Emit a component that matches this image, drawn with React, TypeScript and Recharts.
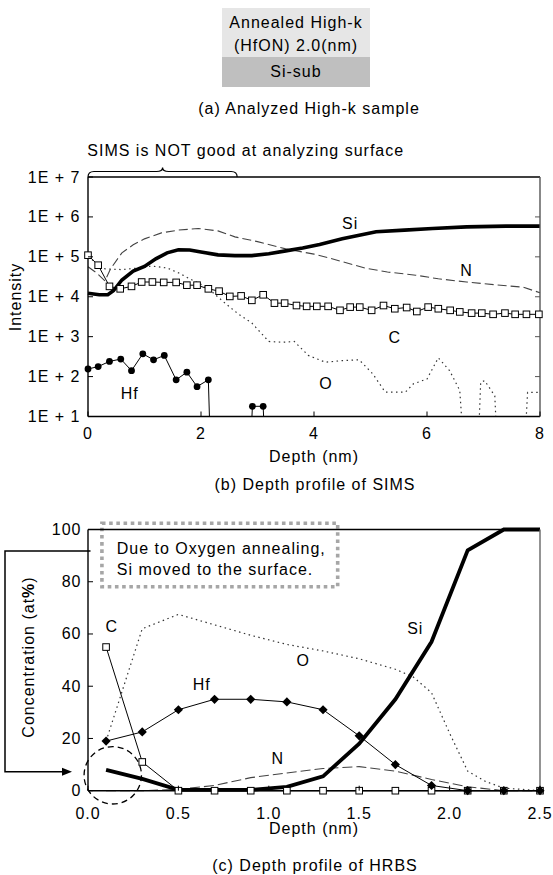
import React from 'react';
import { LineChart, Line, XAxis, YAxis, ReferenceDot, ReferenceLine, ReferenceArea } from 'recharts';

const FONT = '"Liberation Sans", Arial, Helvetica, sans-serif';

// ---------- (b) SIMS depth profile ----------
const SIMS_X_TICKS = [0, 2, 4, 6, 8];
const SIMS_X_TOP_TICKS = [2, 4, 6];
const SIMS_Y_TICKS = [10, 100, 1000, 10000, 100000, 1000000, 10000000];
const SIMS_Y_TICK_LABELS = ['1E + 1', '1E + 2', '1E + 3', '1E + 4', '1E + 5', '1E + 6', '1E + 7'];
const SIMS_Y_RIGHT_TICKS = [100, 1000, 10000, 100000, 1000000];

const SIMS_SI_DEPTH = [0, 0.2, 0.35, 0.45, 0.6, 0.8, 1.0, 1.2, 1.4, 1.6, 1.8, 2.0, 2.3, 2.6, 2.9, 3.2, 3.5, 3.8, 4.1, 4.5, 5.1, 5.6, 6.1, 6.7, 7.4, 8.0];
const SIMS_SI = [12300, 11200, 11200, 14100, 26300, 43700, 57500, 89100, 126000, 151000, 148000, 132000, 112000, 107000, 107000, 120000, 141000, 166000, 204000, 282000, 427000, 468000, 513000, 562000, 589000, 589000];

const SIMS_N_DEPTH = [0, 0.15, 0.3, 0.4, 0.6, 0.8, 1.0, 1.3, 1.6, 1.95, 2.3, 2.6, 3.0, 3.5, 4.0, 4.3, 4.9, 5.3, 5.8, 6.2, 6.7, 7.2, 7.7, 8.0];
const SIMS_N = [56200, 39800, 25100, 50100, 126000, 200000, 282000, 398000, 468000, 513000, 447000, 316000, 240000, 158000, 117000, 91200, 52500, 41700, 34700, 28200, 23400, 20000, 17400, 12600];

const SIMS_C_DEPTH = [0, 0.18, 0.38, 0.57, 0.77, 0.95, 1.14, 1.34, 1.56, 1.75, 1.93, 2.13, 2.32, 2.51, 2.71, 2.9, 3.1, 3.3, 3.48, 3.69, 3.87, 4.05, 4.25, 4.46, 4.64, 4.81, 5.02, 5.23, 5.43, 5.64, 5.82, 6.02, 6.2, 6.41, 6.58, 6.79, 6.97, 7.17, 7.38, 7.56, 7.76, 7.98];
const SIMS_C = [110000, 61700, 18200, 15800, 18200, 23400, 23400, 22900, 22900, 19500, 19500, 15800, 13800, 10200, 10500, 8130, 11200, 6920, 6920, 6030, 5750, 5750, 5750, 4570, 5500, 5500, 4570, 6030, 5010, 5370, 4270, 5500, 5010, 4570, 4170, 3890, 3890, 3630, 3890, 3630, 3630, 3630];

const SIMS_O_DEPTH = [0, 0.15, 0.3, 0.6, 0.9, 1.13, 1.4, 1.6, 1.8, 2.1, 2.4, 2.65, 2.9, 3.2, 3.45, 3.65, 3.9, 4.2, 4.5, 4.8, 5.04, 5.26, 5.62, 5.76, 6.0, 6.2, 6.4, 6.58, 6.66, 6.9, 6.95, 7.02, 7.2, 7.25, 7.72, 7.78, 8.0];
const SIMS_O = [100000, 70800, 50100, 47900, 52500, 58900, 52500, 39800, 28200, 17400, 7410, 3800, 2190, 759, 724, 759, 339, 229, 251, 263, 117, 41, 41, 66, 87, 295, 141, 45, 1, 1, 72, 79, 33, 1, 1, 40, 40];

const SIMS_HF_DEPTH = [0, 0.18, 0.38, 0.58, 0.77, 0.97, 1.16, 1.35, 1.56, 1.75, 1.93, 2.13, 2.17, 2.87, 2.91, 3.1, 3.14];
const SIMS_HF = [155, 178, 240, 275, 141, 372, 263, 339, 83, 129, 56, 83, 1, 1, 18, 18, 1];
const SIMS_HF_MARK = [1, 1, 1, 1, 1, 1, 1, 1, 1, 1, 1, 1, 0, 0, 1, 1, 0];

const SIMS_LABELS = ['Si', 'N', 'C', 'O', 'Hf'];
const SIMS_LABEL_X = [4.64, 6.7, 5.43, 4.21, 0.74];
const SIMS_LABEL_Y = [690000, 45700, 977, 66, 37];

// ---------- (c) HRBS depth profile ----------
const HRBS_X_TICKS = [0, 0.5, 1.0, 1.5, 2.0, 2.5];
const HRBS_X_TOP_TICKS = [0.5, 1.0, 1.5, 2.0];
const HRBS_Y_TICKS = [0, 20, 40, 60, 80, 100];
const HRBS_Y_RIGHT_TICKS = [20, 40, 60, 80];

const HRBS_DEPTH = [0.1, 0.3, 0.5, 0.7, 0.9, 1.1, 1.3, 1.5, 1.7, 1.9, 2.1, 2.3, 2.5];
const HRBS_SI = [8, 4.5, 0.3, 0.3, 0.3, 1.5, 5.5, 18, 35, 57, 92, 100, 100];
const HRBS_HF = [19, 22.5, 31, 35, 35, 34, 31, 21, 10, 2, 0, 0, 0];
const HRBS_C = [55, 11, 0, 0, 0, 0, 0, 0, 0, 0, 0, 0, 0];
const HRBS_N = [0, 0, 0.5, 2, 5, 6.8, 8.5, 9.2, 7.5, 4.3, 1.5, 0, 0];
const HRBS_O_DEPTH = [0.1, 0.3, 0.5, 0.7, 0.9, 1.1, 1.3, 1.5, 1.7, 1.8, 1.9, 2.0, 2.1, 2.2, 2.3, 2.5];
const HRBS_O = [19, 62, 67.5, 63.5, 59.5, 56, 53.5, 50.5, 46.5, 43.5, 37.5, 22, 7.5, 3.5, 1, 0];

const HRBS_LABELS = ['C', 'Hf', 'O', 'N', 'Si'];
const HRBS_LABEL_X = [0.131, 0.629, 1.19, 1.05, 1.81];
const HRBS_LABEL_Y = [62.8, 40.5, 50, 12.4, 62.2];

const pts = (ds: number[], vs: number[], ms?: number[]) =>
  ds.map((d, i) => ({ d, v: vs[i], m: ms ? ms[i] : 1 }));

const TICK_LEN = 5;

// custom ticks: draw inward tick line plus (optionally) the label
const bottomTick = (m: number, fmt: (v: number) => string) => (p: any) => (
  <g>
    <line x1={p.x} x2={p.x} y1={p.y - m} y2={p.y - m - TICK_LEN} stroke="#000" strokeWidth={1} />
    <text x={p.x} y={p.y} textAnchor="middle" dominantBaseline="central" fontSize={16} fill="#000">{fmt(p.payload.value)}</text>
  </g>
);
const leftTick = (m: number, fmt: (v: number) => string) => (p: any) => (
  <g>
    <line x1={p.x + m} x2={p.x + m + TICK_LEN} y1={p.y} y2={p.y} stroke="#000" strokeWidth={1} />
    <text x={p.x} y={p.y} textAnchor="end" dominantBaseline="central" fontSize={16} fill="#000">{fmt(p.payload.value)}</text>
  </g>
);
const topTick = (color: string) => (p: any) => (
  <line x1={p.x} x2={p.x} y1={p.y} y2={p.y + TICK_LEN} stroke={color} strokeWidth={1} />
);
const rightTick = (color: string) => (p: any) => (
  <line x1={p.x} x2={p.x - TICK_LEN} y1={p.y} y2={p.y} stroke={color} strokeWidth={1} />
);

const simsYLabel = (v: number) => SIMS_Y_TICK_LABELS[SIMS_Y_TICKS.indexOf(v)] ?? '';
const simsXLabel = (v: number) => String(v);
const hrbsXLabel = (v: number) => v.toFixed(1);
const hrbsYLabel = (v: number) => String(v);

const squareDot = (p: any) => {
  const { cx, cy, payload, index } = p;
  if (cx == null || cy == null || !payload || !payload.m) return <g key={`sq${index}`} />;
  return <rect key={`sq${index}`} x={cx - 3.3} y={cy - 3.3} width={6.6} height={6.6} fill="#fff" stroke="#000" strokeWidth={1} />;
};
const circleDot = (p: any) => {
  const { cx, cy, payload, index } = p;
  if (cx == null || cy == null || !payload || !payload.m) return <g key={`ci${index}`} />;
  return <circle key={`ci${index}`} cx={cx} cy={cy} r={3.4} fill="#000" stroke="none" />;
};
const diamondDot = (p: any) => {
  const { cx, cy, index } = p;
  if (cx == null || cy == null) return <g key={`di${index}`} />;
  const s = 4.6;
  return <path key={`di${index}`} d={`M${cx},${cy - s} L${cx + s},${cy} L${cx},${cy + s} L${cx - s},${cy} Z`} fill="#000" />;
};

const textShape = (label: string, anchor: string = 'middle') => (p: any) => (
  <text x={p.cx} y={p.cy} textAnchor={anchor} dominantBaseline="central" fontSize={16} fill="#000">{label}</text>
);

const braceShape = (p: any) => {
  const { x1, x2, y1 } = p;
  const mid = (x1 + x2) / 2;
  const yb = y1;
  const ym = y1 - 5.5;
  const yt = y1 - 9.5;
  const r = 6;
  const d = `M${x1},${yb} Q${x1},${ym} ${x1 + r},${ym} L${mid - r},${ym} Q${mid},${ym} ${mid},${yt} Q${mid},${ym} ${mid + r},${ym} L${x2 - r},${ym} Q${x2},${ym} ${x2},${yb}`;
  return <path d={d} fill="none" stroke="#000" strokeWidth={1.2} />;
};

const bracketShape = (p: any) => {
  const { x1, y1, y2 } = p;
  const left = x1 - 83;
  const tip = x1 - 16;
  const base = tip - 10;
  return (
    <g>
      <path d={`M${x1 + 2.5},${y1} H${left} V${y2} H${base}`} fill="none" stroke="#000" strokeWidth={1.5} />
      <path d={`M${base},${y2 - 4} L${tip},${y2} L${base},${y2 + 4} Z`} fill="#000" />
    </g>
  );
};

const circleShape = (p: any) => (
  <circle cx={p.cx} cy={p.cy} r={28.7} fill="none" stroke="#000" strokeWidth={1.3} strokeDasharray="6 4" />
);

const boxTextShape = (p: any) => (
  <text x={p.cx} y={p.cy} fontSize={16} fill="#000" dominantBaseline="central">
    <tspan x={p.cx} dy={0}>Due to Oxygen annealing,</tspan>
    <tspan x={p.cx} dy={20.7}>Si moved to the surface.</tspan>
  </text>
);

export default function App() {
  return (
    <div style={{ position: 'absolute', left: 0, top: 0, width: 553, height: 875, background: '#fff', fontFamily: FONT, letterSpacing: '1px' }}>
      {/* (b) SIMS */}
      <div style={{ position: 'absolute', left: 0, top: 0 }}>
        <LineChart width={553} height={500} margin={{ top: 176, right: 12, bottom: 82.5, left: 87 }}>
          <XAxis xAxisId="b" dataKey="d" type="number" domain={[0, 8]} ticks={SIMS_X_TICKS} interval={0} height={1}
            tickSize={0} tickMargin={16.8} axisLine={{ stroke: '#000', strokeWidth: 1.4 }} tickLine={false} tick={bottomTick(16.8, simsXLabel)} />
          <XAxis xAxisId="t" orientation="top" dataKey="d" type="number" domain={[0, 8]} ticks={SIMS_X_TOP_TICKS} interval={0} height={1}
            tickSize={0} tickMargin={0} axisLine={{ stroke: '#000', strokeWidth: 1.4 }} tickLine={false} tick={topTick('#000')} />
          <YAxis yAxisId="l" scale="log" type="number" domain={[10, 10000000]} ticks={SIMS_Y_TICKS} interval={0} width={1}
            allowDataOverflow tickSize={0} tickMargin={7.5}
            axisLine={{ stroke: '#000', strokeWidth: 1.4 }} tickLine={false} tick={leftTick(7.5, simsYLabel)} />
          <YAxis yAxisId="r" orientation="right" scale="log" type="number" domain={[10, 10000000]} ticks={SIMS_Y_RIGHT_TICKS} interval={0} width={1}
            allowDataOverflow tickSize={0} tickMargin={0} axisLine={{ stroke: '#555', strokeWidth: 1.4 }} tickLine={false} tick={rightTick('#555')} />

          <Line xAxisId="b" yAxisId="l" data={pts(SIMS_O_DEPTH, SIMS_O)} dataKey="v" type="linear" stroke="#333" strokeWidth={1.2}
            strokeDasharray="1.5 3.5" dot={false} activeDot={false} isAnimationActive={false} />
          <Line xAxisId="b" yAxisId="l" data={pts(SIMS_N_DEPTH, SIMS_N)} dataKey="v" type="linear" stroke="#444" strokeWidth={1.1}
            strokeDasharray="9 4" dot={false} activeDot={false} isAnimationActive={false} />
          <Line xAxisId="b" yAxisId="l" data={pts(SIMS_C_DEPTH, SIMS_C)} dataKey="v" type="linear" stroke="#000" strokeWidth={1}
            dot={squareDot} activeDot={false} isAnimationActive={false} />
          <Line xAxisId="b" yAxisId="l" data={pts(SIMS_SI_DEPTH, SIMS_SI)} dataKey="v" type="linear" stroke="#000" strokeWidth={3.6}
            dot={false} activeDot={false} isAnimationActive={false} />
          <Line xAxisId="b" yAxisId="l" data={pts(SIMS_HF_DEPTH, SIMS_HF, SIMS_HF_MARK)} dataKey="v" type="linear" stroke="#000" strokeWidth={1}
            dot={circleDot} activeDot={false} isAnimationActive={false} />

          <ReferenceLine xAxisId="b" yAxisId="l" segment={[{ x: 0, y: 10000000 }, { x: 2.64, y: 10000000 }]} ifOverflow="visible" shape={braceShape} />
          {SIMS_LABELS.map((lab, i) => (
            <ReferenceDot key={`sl${i}`} xAxisId="b" yAxisId="l" x={SIMS_LABEL_X[i]} y={SIMS_LABEL_Y[i]} r={0} ifOverflow="visible" shape={textShape(lab)} />
          ))}
        </LineChart>
      </div>

      {/* (c) HRBS */}
      <div style={{ position: 'absolute', left: 0, top: 460 }}>
        <LineChart width={553} height={415} margin={{ top: 68.5, right: 12, bottom: 83.3, left: 87 }}>
          <XAxis xAxisId="b" dataKey="d" type="number" domain={[0, 2.5]} ticks={HRBS_X_TICKS} interval={0} height={1}
            tickSize={0} tickMargin={22.6} axisLine={{ stroke: '#000', strokeWidth: 1.4 }} tickLine={false} tick={bottomTick(22.6, hrbsXLabel)} />
          <XAxis xAxisId="t" orientation="top" dataKey="d" type="number" domain={[0, 2.5]} ticks={HRBS_X_TOP_TICKS} interval={0} height={1}
            tickSize={0} tickMargin={0} axisLine={{ stroke: '#000', strokeWidth: 1.4 }} tickLine={false} tick={topTick('#000')} />
          <YAxis yAxisId="l" type="number" domain={[0, 100]} ticks={HRBS_Y_TICKS} interval={0} width={1}
            tickSize={0} tickMargin={6.5} axisLine={{ stroke: '#000', strokeWidth: 1.4 }} tickLine={false} tick={leftTick(6.5, hrbsYLabel)} />
          <YAxis yAxisId="r" orientation="right" type="number" domain={[0, 100]} ticks={HRBS_Y_RIGHT_TICKS} interval={0} width={1}
            tickSize={0} tickMargin={0} axisLine={{ stroke: '#666', strokeWidth: 1.4 }} tickLine={false} tick={rightTick('#666')} />

          <ReferenceArea xAxisId="b" yAxisId="l" x1={0.077} x2={1.381} y1={78.1} y2={102.4} ifOverflow="visible"
            fill="none" fillOpacity={0} stroke="#a6a6a6" strokeWidth={3.6} strokeDasharray="3.6 3.6" />

          <Line xAxisId="b" yAxisId="l" data={pts(HRBS_O_DEPTH, HRBS_O)} dataKey="v" type="linear" stroke="#333" strokeWidth={1.2}
            strokeDasharray="1.5 3.5" dot={false} activeDot={false} isAnimationActive={false} />
          <Line xAxisId="b" yAxisId="l" data={pts(HRBS_DEPTH, HRBS_N)} dataKey="v" type="linear" stroke="#444" strokeWidth={1.1}
            strokeDasharray="10 4" dot={false} activeDot={false} isAnimationActive={false} />
          <Line xAxisId="b" yAxisId="l" data={pts(HRBS_DEPTH, HRBS_C)} dataKey="v" type="linear" stroke="#000" strokeWidth={1}
            dot={squareDot} activeDot={false} isAnimationActive={false} />
          <Line xAxisId="b" yAxisId="l" data={pts(HRBS_DEPTH, HRBS_SI)} dataKey="v" type="linear" stroke="#000" strokeWidth={3.8}
            dot={false} activeDot={false} isAnimationActive={false} />
          <Line xAxisId="b" yAxisId="l" data={pts(HRBS_DEPTH, HRBS_HF)} dataKey="v" type="linear" stroke="#000" strokeWidth={1}
            dot={diamondDot} activeDot={false} isAnimationActive={false} />

          <ReferenceDot xAxisId="b" yAxisId="l" x={0.137} y={5.9} r={0} ifOverflow="visible" shape={circleShape} />
          <ReferenceLine xAxisId="b" yAxisId="l" segment={[{ x: 0, y: 91.8 }, { x: 0, y: 7.3 }]} ifOverflow="visible" shape={bracketShape} />
          <ReferenceDot xAxisId="b" yAxisId="l" x={0.159} y={92.8} r={0} ifOverflow="visible" shape={boxTextShape} />
          {HRBS_LABELS.map((lab, i) => (
            <ReferenceDot key={`hl${i}`} xAxisId="b" yAxisId="l" x={HRBS_LABEL_X[i]} y={HRBS_LABEL_Y[i]} r={0} ifOverflow="visible" shape={textShape(lab)} />
          ))}
        </LineChart>
      </div>

      {/* (a) sample diagram and captions */}
      <svg width={553} height={875} style={{ position: 'absolute', left: 0, top: 0, pointerEvents: 'none' }}>
        <rect x={222} y={8} width={148} height={49} fill="#e6e6e6" />
        <rect x={222} y={57} width={148} height={30} fill="#bfbfbf" />
        <g fontSize={16} fill="#000" textAnchor="middle" dominantBaseline="central">
          <text x={296} y={22.7}>Annealed High-k</text>
          <text x={296} y={45}>(HfON) 2.0(nm)</text>
          <text x={296} y={71.7}>Si-sub</text>
          <text x={309} y={108.5}>(a) Analyzed High-k sample</text>
          <text x={87.3} y={150.5} textAnchor="start">SIMS is NOT good at analyzing surface</text>
          <text x={15} y={297} transform="rotate(-90 15 297)">Intensity</text>
          <text x={314} y={456.7}>Depth (nm)</text>
          <text x={315} y={484}>(b) Depth profile of SIMS</text>
          <text x={28.3} y={657} transform="rotate(-90 28.3 657)">Concentration  (at<tspan fontWeight="bold">%</tspan>)</text>
          <text x={314} y={828.3}>Depth (nm)</text>
          <text x={315} y={865}>(c) Depth profile of HRBS</text>
        </g>
      </svg>
    </div>
  );
}
